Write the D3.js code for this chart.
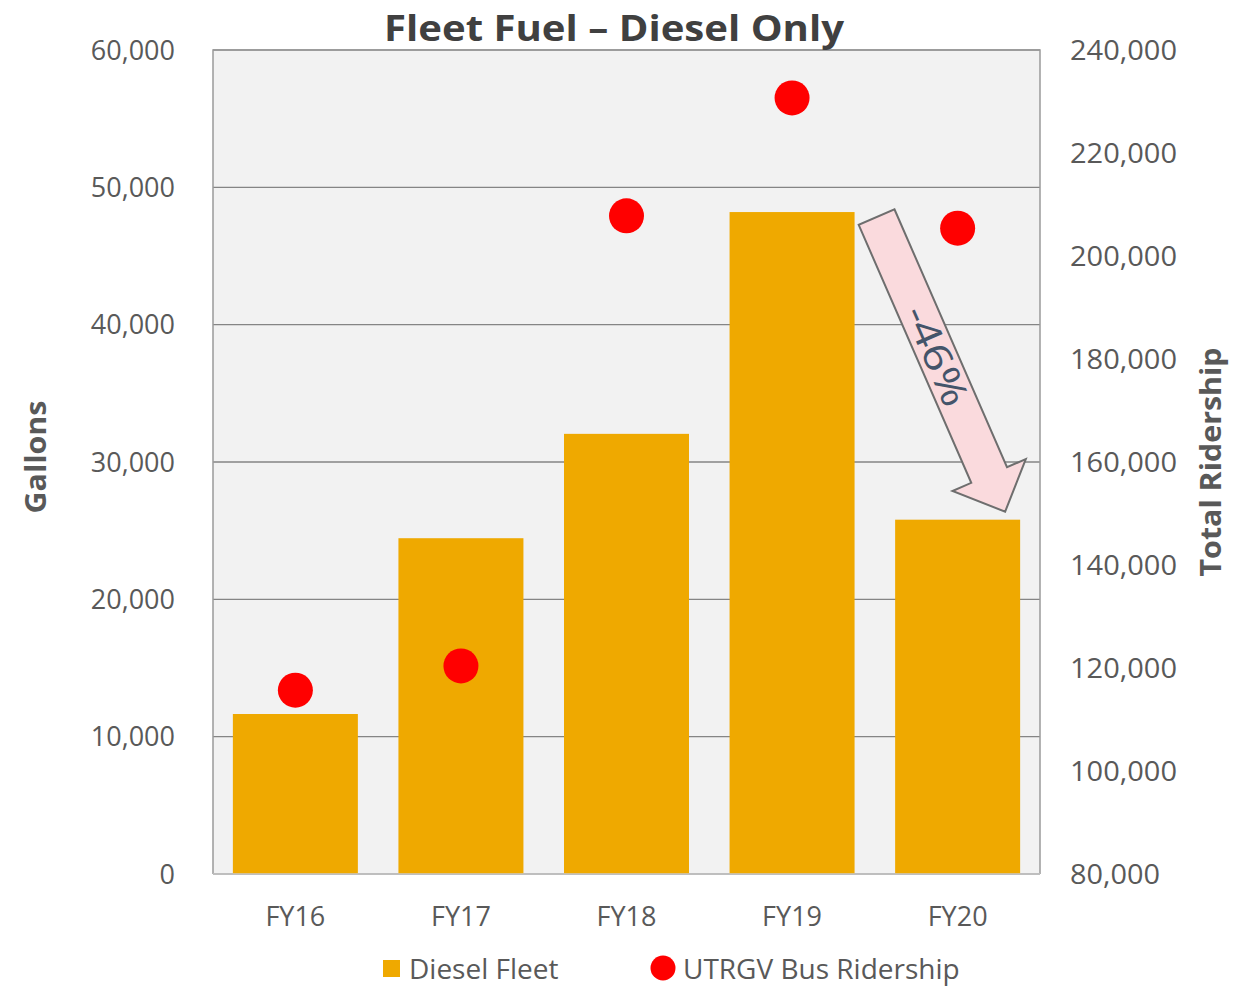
<!DOCTYPE html>
<html><head><meta charset="utf-8">
<script src="https://cdn.jsdelivr.net/npm/d3@7"></script>
<style>body{margin:0;background:#fff;}svg{display:block;}</style>
</head><body>
<svg id="c" width="1250" height="986"></svg>
<script>
const categories = ["FY16","FY17","FY18","FY19","FY20"];
const dieselGallons = [11650, 24450, 32050, 48200, 25800];
const ridership = [115700, 120400, 207800, 230700, 205400];
const leftTicks = [0,10000,20000,30000,40000,50000,60000];
const rightTicks = [80000,100000,120000,140000,160000,180000,200000,220000,240000];
const seriesNames = ["Diesel Fleet","UTRGV Bus Ridership"];
const changeLabel = "-46%";

const svg = d3.select("#c");
const L=213, R=1040, T=50, B=874;
const font = "'Open Sans', 'Noto Sans', sans-serif";
const x = d3.scaleBand().domain(categories).range([L,R]).paddingInner(0.245).paddingOuter(0.12);
const yL = d3.scaleLinear().domain([0,60000]).range([B,T]);
const yR = d3.scaleLinear().domain([80000,240000]).range([B,T]);
const fmt = d3.format(",");

svg.append("rect").attr("x",L).attr("y",T).attr("width",R-L).attr("height",B-T).attr("fill","#f2f2f2");
// gridlines
svg.append("g").selectAll("line").data(leftTicks).join("line")
  .attr("x1",L).attr("x2",R).attr("y1",d=>yL(d)).attr("y2",d=>yL(d))
  .attr("stroke","#858585").attr("stroke-width",1.3);
// border
svg.append("path").attr("d",`M${L},${B}V${T}H${R}V${B}`).attr("fill","none").attr("stroke","#9a9a9a").attr("stroke-width",1.5);

// bars
svg.append("g").selectAll("rect").data(categories).join("rect")
  .attr("x",d=>x(d)).attr("width",x.bandwidth())
  .attr("y",(d,i)=>yL(dieselGallons[i])).attr("height",(d,i)=>B-yL(dieselGallons[i]))
  .attr("fill","#efa900");
svg.append("line").attr("x1",L).attr("x2",R).attr("y1",B).attr("y2",B).attr("stroke","#c8c8c8").attr("stroke-width",1.5);

// arrow annotation: from FY19 bar top-right toward FY20 bar top
{
  const sx = x("FY19")+x.bandwidth()+22, sy = yL(dieselGallons[3])+5;
  const ex = x("FY20")+x.bandwidth()-15, ey = yL(dieselGallons[4])-8;
  const dx=ex-sx, dy=ey-sy, len=Math.hypot(dx,dy);
  const ang = Math.atan2(dy,dx)*180/Math.PI;
  const hw=19.5, headW=40, headL=40;
  const g = svg.append("g").attr("transform",`translate(${sx},${sy}) rotate(${ang})`);
  g.append("path").attr("d",`M0,${-hw}L${len-headL},${-hw}L${len-headL},${-headW}L${len},0L${len-headL},${headW}L${len-headL},${hw}L0,${hw}Z`)
    .attr("fill","#fadadd").attr("stroke","#6e6e6e").attr("stroke-width",2).attr("stroke-linejoin","miter");
  g.append("text").attr("x",len*0.47).attr("y",0).attr("dy","0.36em").attr("text-anchor","middle")
    .attr("font-family",font).attr("font-size",38).attr("fill","#44546a")
    .attr("textLength",106).attr("lengthAdjust","spacingAndGlyphs").text(changeLabel);
}

// points
svg.append("g").selectAll("circle").data(categories).join("circle")
  .attr("cx",d=>x(d)+x.bandwidth()/2).attr("cy",(d,i)=>yR(ridership[i])).attr("r",17.5)
  .attr("fill","#ff0000");

// left axis labels
svg.append("g").selectAll("text").data(leftTicks).join("text")
  .attr("x",175).attr("y",d=>yL(d)).attr("dy","0.36em").attr("text-anchor","end")
  .attr("font-family",font).attr("font-size",27).attr("fill","#595959").text(d=>fmt(d));
// right axis labels
svg.append("g").selectAll("text").data(rightTicks).join("text")
  .attr("x",1070).attr("y",d=>yR(d)).attr("dy","0.36em").attr("text-anchor","start")
  .attr("font-family",font).attr("font-size",27).attr("fill","#595959")
  .attr("textLength",d=>fmt(d).length>6?107:90).attr("lengthAdjust","spacingAndGlyphs").text(d=>fmt(d));
// x labels
svg.append("g").selectAll("text").data(categories).join("text")
  .attr("x",d=>x(d)+x.bandwidth()/2).attr("y",926).attr("text-anchor","middle")
  .attr("font-family",font).attr("font-size",27).attr("fill","#595959").text(d=>d);

// title
svg.append("text").attr("x",614).attr("y",41).attr("text-anchor","middle")
  .attr("font-family",font).attr("font-weight","bold").attr("font-size",36).attr("fill","#404040")
  .attr("textLength",460).attr("lengthAdjust","spacingAndGlyphs")
  .text("Fleet Fuel \u2013 Diesel Only");
// axis titles
svg.append("text").attr("transform","translate(46,457) rotate(-90)").attr("text-anchor","middle")
  .attr("font-family",font).attr("font-weight","bold").attr("font-size",29).attr("fill","#595959")
  .attr("textLength",113).attr("lengthAdjust","spacingAndGlyphs").text("Gallons");
svg.append("text").attr("transform","translate(1221,462) rotate(-90)").attr("text-anchor","middle")
  .attr("font-family",font).attr("font-weight","bold").attr("font-size",29).attr("fill","#595959")
  .attr("textLength",229).attr("lengthAdjust","spacingAndGlyphs").text("Total Ridership");

// legend
svg.append("rect").attr("x",383).attr("y",960).attr("width",17).attr("height",17).attr("fill","#efa900");
svg.append("text").attr("x",409).attr("y",979).attr("font-family",font).attr("font-size",28).attr("fill","#595959").text(seriesNames[0]);
svg.append("circle").attr("cx",663).attr("cy",968).attr("r",12.5).attr("fill","#ff0000");
svg.append("text").attr("x",683).attr("y",979).attr("font-family",font).attr("font-size",28).attr("fill","#595959").text(seriesNames[1]);
</script>
</body></html>
